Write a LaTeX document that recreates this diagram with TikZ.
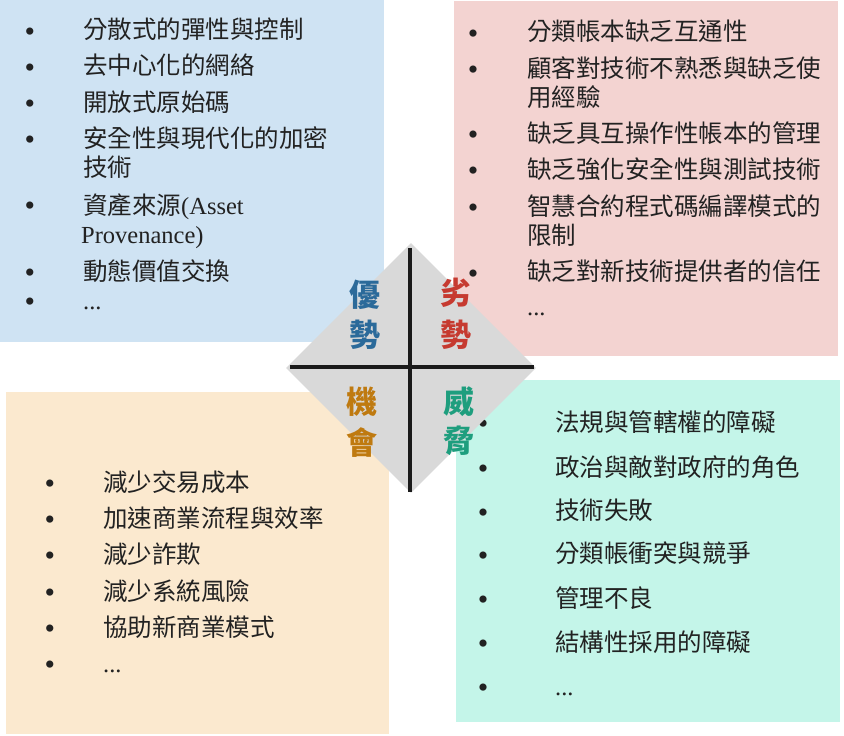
\documentclass[tikz,border=0pt]{standalone}
\usepackage{fontspec}
\setmainfont{Noto Sans CJK TC}
\newfontfamily\serifl{Liberation Serif}
\usetikzlibrary{shapes.geometric}

% panel fills
\definecolor{boxS}{HTML}{CFE3F3}
\definecolor{boxW}{HTML}{F3D3D1}
\definecolor{boxO}{HTML}{FBE9CF}
\definecolor{boxT}{HTML}{C4F5E9}
% centre pad, cross and headings
\definecolor{padgray}{HTML}{D9D9D9}
\definecolor{crossink}{HTML}{1A1A1A}
\definecolor{labS}{HTML}{2B6A9A}
\definecolor{labW}{HTML}{C63A30}
\definecolor{labO}{HTML}{BF7A10}
\definecolor{labT}{HTML}{1E9E7E}
\definecolor{ink}{HTML}{222222}

\tikzset{
  panel/.style={rectangle, anchor=north west, inner sep=0pt, draw=none},
  item/.style={anchor=base west, inner sep=0pt, text=ink,
               font=\fontsize{24.5}{30}\selectfont},
  % bullet glyph: its dot sits about 11pt above the baseline at this size
  bul/.style={anchor=base, inner sep=0pt, text=ink, yshift=-11pt,
              font=\serifl\fontsize{30}{30}\selectfont},
  lbl/.style={inner sep=0pt, font=\bfseries\fontsize{31}{36}\selectfont},
  crossline/.style={draw=crossink, line width=4pt},
}

\begin{document}
\begin{tikzpicture}[x=1pt, y=-1pt]
\useasboundingbox (0,0) rectangle (844,736);

% ---- four panels ----
\node[panel, fill=boxS, minimum width=384pt, minimum height=342pt] (pS) at (0,0) {};
\node[panel, fill=boxW, minimum width=384pt, minimum height=355pt] (pW) at (454,1) {};
\node[panel, fill=boxO, minimum width=383pt, minimum height=342pt] (pO) at (6,392) {};
\node[panel, fill=boxT, minimum width=384pt, minimum height=342pt] (pT) at (456,380) {};

% ---- strengths ----
\node[bul] (sb1) at (30,30) {•};  \node[item] (st1) at (83,38) {分散式的彈性與控制};
\node[bul] (sb2) at (30,66) {•};  \node[item] (st2) at (83,74) {去中心化的網絡};
\node[bul] (sb3) at (30,102) {•}; \node[item] (st3) at (83,111) {開放式原始碼};
\node[bul] (sb4) at (30,138) {•}; \node[item] (st4) at (83,147) {安全性與現代化的加密};
                                  \node[item] (st4b) at (83,176) {技術};
\node[bul] (sb5) at (30,204) {•}; \node[item] (st5) at (83,214) {資產來源{\serifl(Asset}};
                                  \node[item] (st5b) at (81,243) {\serifl Provenance)};
\node[bul] (sb6) at (30,271) {•}; \node[item] (st6) at (83,280) {動態價值交換};
\node[bul] (sb7) at (30,300) {•}; \node[item] (st7) at (83,309) {\serifl ...};

% ---- weaknesses ----
\node[bul] (wb1) at (473,32) {•};  \node[item] (wt1) at (527,40) {分類帳本缺乏互通性};
\node[bul] (wb2) at (473,68) {•};  \node[item] (wt2) at (527,77) {顧客對技術不熟悉與缺乏使};
                                   \node[item] (wt2b) at (527,106) {用經驗};
\node[bul] (wb3) at (473,133) {•}; \node[item] (wt3) at (527,142) {缺乏具互操作性帳本的管理};
\node[bul] (wb4) at (473,169) {•}; \node[item] (wt4) at (527,178) {缺乏強化安全性與測試技術};
\node[bul] (wb5) at (473,206) {•}; \node[item] (wt5) at (527,215) {智慧合約程式碼編譯模式的};
                                   \node[item] (wt5b) at (527,244) {限制};
\node[bul] (wb6) at (473,272) {•}; \node[item] (wt6) at (527,280) {缺乏對新技術提供者的信任};
                                   \node[item] (wt7) at (527,315) {\serifl ...};

% ---- opportunities ----
\node[bul] (ob1) at (50,482) {•}; \node[item] (ot1) at (103,491) {減少交易成本};
\node[bul] (ob2) at (50,518) {•}; \node[item] (ot2) at (103,527) {加速商業流程與效率};
\node[bul] (ob3) at (50,554) {•}; \node[item] (ot3) at (103,563) {減少詐欺};
\node[bul] (ob4) at (50,591) {•}; \node[item] (ot4) at (103,600) {減少系統風險};
\node[bul] (ob5) at (50,627) {•}; \node[item] (ot5) at (103,636) {協助新商業模式};
\node[bul] (ob6) at (50,663) {•}; \node[item] (ot6) at (103,672) {\serifl ...};

% ---- threats ----
\node[bul] (tb1) at (483,422) {•}; \node[item] (tt1) at (555,431) {法規與管轄權的障礙};
\node[bul] (tb2) at (483,467) {•}; \node[item] (tt2) at (555,476) {政治與敵對政府的角色};
\node[bul] (tb3) at (483,511) {•}; \node[item] (tt3) at (555,519) {技術失敗};
\node[bul] (tb4) at (483,554) {•}; \node[item] (tt4) at (555,562) {分類帳衝突與競爭};
\node[bul] (tb5) at (483,598) {•}; \node[item] (tt5) at (555,607) {管理不良};
\node[bul] (tb6) at (483,642) {•}; \node[item] (tt6) at (555,651) {結構性採用的障礙};
\node[bul] (tb7) at (483,686) {•}; \node[item] (tt7) at (555,695) {\serifl ...};

% ---- centre diamond with cross ----
\node[diamond, fill=padgray, draw=none, inner sep=0pt,
      minimum width=250pt, minimum height=250pt] (pad) at (411,368) {};
\coordinate (vtop) at (410,248);
\coordinate (vbot) at (410,492);
\coordinate (hlft) at (290,367);
\coordinate (hrgt) at (534,367);
\draw[crossline] (vtop) -- (vbot);
\draw[crossline] (hlft) -- (hrgt);

% ---- quadrant headings ----
\node[lbl, text=labS] (hS1) at (365,295) {優};
\node[lbl, text=labS] (hS2) at (365,335) {勢};
\node[lbl, text=labW] (hW1) at (456,293) {劣};
\node[lbl, text=labW] (hW2) at (456,335) {勢};
\node[lbl, text=labO] (hO1) at (362,402) {機};
\node[lbl, text=labO] (hO2) at (362,443) {會};
\node[lbl, text=labT] (hT1) at (459,402) {威};
\node[lbl, text=labT] (hT2) at (459,441) {脅};
\end{tikzpicture}
\end{document}
